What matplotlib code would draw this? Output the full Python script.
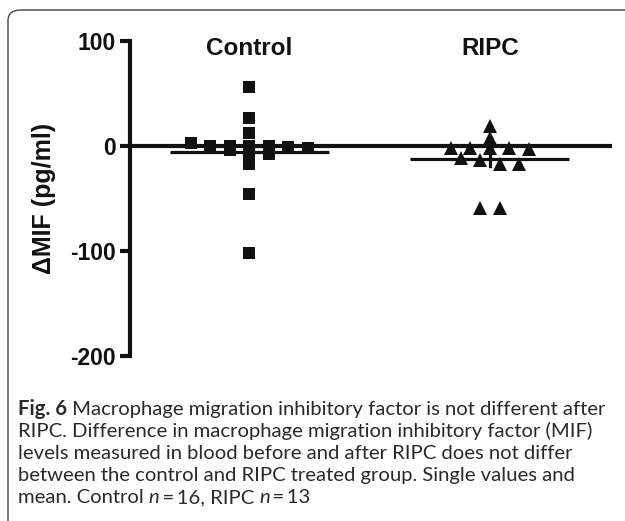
import numpy as np
import matplotlib
matplotlib.use("Agg")
import matplotlib.pyplot as plt
from matplotlib.patches import FancyBboxPatch

# ---- data ----
groups = ["Control", "RIPC"]
control_vals = [56, 27, 12, 3, 0, 0, 0, 0, -1, -2, -4, -6, -8, -17, -46, -102]
ripc_vals = [19, 8, -2, -2, -2, -3, -2, -11, -17, -17, -13, -59, -59]
yticks = [100, 0, -100, -200]
ylabel = "\u0394MIF (pg/ml)"
caption_lines = [
    [("Fig. 6", "bold"), (" Macrophage migration inhibitory factor is not different after", "normal")],
    [("RIPC. Difference in macrophage migration inhibitory factor (MIF)", "normal")],
    [("levels measured in blood before and after RIPC does not differ", "normal")],
    [("between the control and RIPC treated group. Single values and", "normal")],
    [("mean. Control ", "normal"), ("n", "italic"), ("\u2009=\u200916, RIPC ", "normal"), ("n", "italic"), ("\u2009=\u200913", "normal")],
]

W, H = 625, 521
fig = plt.figure(figsize=(W / 100, H / 100), dpi=100)

# rounded frame
frame = FancyBboxPatch((8 / W, 1 - 540 / H), 650 / W, 530 / H,
                       boxstyle="round,pad=0,rounding_size=0.02",
                       transform=fig.transFigure, fill=False,
                       edgecolor="#444444", linewidth=1.0)
fig.patches.append(frame)

ax = fig.add_axes([130 / W, 1 - 356 / H, 482 / W, 315 / H])
ax.set_xlim(-0.496, 1.508)
ax.set_ylim(-200, 100)


def prism_offsets(vals, row_h=6.0, step=0.081):
    order = np.argsort(vals)[::-1]
    offs = np.zeros(len(vals))
    rows = []
    for i in order:
        if rows and vals[rows[-1][0]] - vals[i] <= row_h:
            rows[-1].append(i)
        else:
            rows.append([i])
    for r in rows:
        n = len(r)
        for k, i in enumerate(r):
            offs[i] = (k - (n - 1) / 2) * step
    return offs


markers = ["s", "^"]
msizes = [8.5, 9.5]
for gi, (vals, mk, ms) in enumerate(zip([control_vals, ripc_vals], markers, msizes)):
    v = np.array(vals, dtype=float)
    xs = gi + prism_offsets(v)
    ax.plot(xs, v, linestyle="none", marker=mk, markersize=ms,
            color="#111111", markeredgewidth=0, zorder=4)
    m = v.mean()
    sem = v.std(ddof=1) / np.sqrt(len(v))
    ax.plot([gi - 0.33, gi + 0.33], [m, m], color="#111111", lw=2.3,
            solid_capstyle="butt", zorder=3)
    ax.plot([gi, gi], [m - sem, m + sem], color="#111111", lw=2.3, zorder=3)
    ax.text(gi, 92.5, groups[gi], ha="center", va="center",
            fontsize=17.5, fontweight="bold", family="Liberation Sans", color="#111111")

# zero line
ax.axhline(0, color="#111111", lw=3.0, zorder=2)

for s in ["top", "right", "bottom"]:
    ax.spines[s].set_visible(False)
ax.spines["left"].set_linewidth(3.0)
ax.spines["left"].set_color("#111111")
ax.set_xticks([])
ax.set_yticks(yticks)
ax.set_yticklabels([str(t) for t in yticks])
ax.tick_params(axis="y", direction="out", length=7, width=3.0, color="#111111",
               pad=3, labelsize=16.5)
for lab in ax.get_yticklabels():
    lab.set_fontweight("bold")
    lab.set_family("Liberation Sans")
    lab.set_color("#111111")
ax.set_ylabel(ylabel, fontsize=18, fontweight="bold", family="Liberation Sans",
              labelpad=10, color="#111111")

# caption
fig.canvas.draw()
renderer = fig.canvas.get_renderer()
x0 = 18
baselines = [415, 437, 459, 481, 503]
for line, yb in zip(caption_lines, baselines):
    x = x0
    for txt, style in line:
        kw = dict(fontsize=14.6, family=["Lato", "DejaVu Sans"], va="baseline", ha="left",
                  color="#2a2a2a")
        if style == "bold":
            kw["fontweight"] = "bold"
        if style == "italic":
            kw["fontstyle"] = "italic"
        t = fig.text(x / W, 1 - yb / H, txt, **kw)
        bb = t.get_window_extent(renderer=renderer)
        x += bb.width

fig.savefig("out.png", dpi=100)
